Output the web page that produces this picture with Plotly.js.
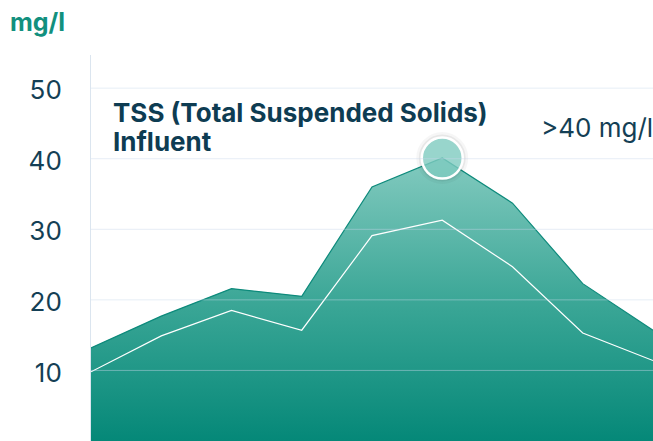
<!DOCTYPE html>
<html>
<head>
<meta charset="utf-8">
<script src="https://cdn.plot.ly/plotly-3.0.1.min.js"></script>
<style>
  html, body { margin: 0; padding: 0; background: #ffffff; }
  #chart { width: 653px; height: 441px; }
</style>
</head>
<body>
<div id="chart"></div>
<script>
// ---- data ----
const samples = [0, 1, 2, 3, 4, 5, 6, 7, 8];
const tssUpper = [13.2, 17.7, 21.6, 20.5, 36.0, 40.1, 33.7, 22.3, 15.7];
const tssLower = [9.8, 14.9, 18.5, 15.7, 29.1, 31.3, 24.7, 15.3, 11.4];
const yTicks = [10, 20, 30, 40, 50];
const yTickLabels = ['10', '20', '30', '40', '50'];
const unitLabel = 'mg/l';
const titleLines = ['TSS (Total Suspended Solids)', 'Influent'];
const thresholdLabel = '>40 mg/l';

// peak point (highlighted)
let peakIdx = 0;
tssUpper.forEach((v, i) => { if (v > tssUpper[peakIdx]) peakIdx = i; });
const peakX = [samples[peakIdx]];
const peakY = [tssUpper[peakIdx]];

const FONT = 'Inter, "Noto Sans", sans-serif';
const DARK = '#143f55';

const traces = [
  {
    x: samples, y: tssUpper, type: 'scatter', mode: 'lines',
    fill: 'tozeroy',
    fillgradient: {
      type: 'vertical', start: 0, stop: 40,
      colorscale: [[0, '#058878'], [0.5, '#3ca797'], [1, '#82cabf']]
    },
    line: { color: '#0d8a7b', width: 1.2 },
    hoverinfo: 'skip', showlegend: false
  },
  {
    x: samples, y: tssLower, type: 'scatter', mode: 'lines',
    line: { color: '#ffffff', width: 1.2 },
    hoverinfo: 'skip', showlegend: false
  },
  {
    x: peakX, y: peakY, type: 'scatter', mode: 'markers',
    marker: { size: 52, color: 'rgba(0,0,0,0.035)', line: { width: 0 } },
    hoverinfo: 'skip', showlegend: false, cliponaxis: false
  },
  {
    x: peakX, y: peakY, type: 'scatter', mode: 'markers',
    marker: { size: 47, color: 'rgba(0,0,0,0.06)', line: { width: 0 } },
    hoverinfo: 'skip', showlegend: false, cliponaxis: false
  },
  {
    x: peakX, y: peakY, type: 'scatter', mode: 'markers',
    marker: { size: 41, color: 'rgba(130,208,196,0.78)', line: { color: '#ffffff', width: 2.5 } },
    hoverinfo: 'skip', showlegend: false, cliponaxis: false
  }
];

const gridShapes = yTicks.map(v => ({
  type: 'line', xref: 'paper', x0: 0, x1: 1, yref: 'y', y0: v, y1: v,
  layer: 'above',
  line: { color: 'rgba(200,216,232,0.45)', width: 1 }
}));

const layout = {
  width: 653, height: 441,
  margin: { l: 91, r: 0, t: 55, b: 0, pad: 0 },
  paper_bgcolor: '#ffffff', plot_bgcolor: '#ffffff',
  font: { family: FONT, color: DARK },
  showlegend: false,
  xaxis: {
    range: [samples[0], samples[samples.length - 1]],
    visible: false, fixedrange: true
  },
  yaxis: {
    range: [0, 54.7],
    tickvals: yTicks, ticktext: yTickLabels,
    showgrid: false, zeroline: false,
    showline: true, linecolor: '#dbe5ef', linewidth: 1,
    ticks: '', ticklabelstandoff: 23, ticklabelshift: 2,
    tickfont: { family: FONT, size: 26, color: DARK },
    fixedrange: true
  },
  shapes: gridShapes,
  annotations: [
    {
      text: '<b>' + unitLabel + '</b>', xref: 'paper', yref: 'paper',
      x: -0.148, y: 1.085, xanchor: 'left', yanchor: 'middle', showarrow: false,
      font: { family: FONT, size: 25, color: '#12907e' }
    },
    {
      text: '<b>' + titleLines[0] + '</b>', xref: 'paper', yref: 'paper',
      x: 0.036, y: 0.852, xanchor: 'left', yanchor: 'middle', align: 'left',
      showarrow: false,
      font: { family: FONT, size: 26, color: '#0e3c52' }
    },
    {
      text: '<b>' + titleLines[1] + '</b>', xref: 'paper', yref: 'paper',
      x: 0.036, y: 0.777, xanchor: 'left', yanchor: 'middle', align: 'left',
      showarrow: false,
      font: { family: FONT, size: 26, color: '#0e3c52' }
    },
    {
      text: thresholdLabel, xref: 'paper', yref: 'paper',
      x: 0.797, y: 0.811, xanchor: 'left', yanchor: 'middle', showarrow: false,
      font: { family: FONT, size: 26, color: DARK }
    }
  ]
};

Plotly.newPlot('chart', traces, layout, { displayModeBar: false, staticPlot: true });
</script>
</body>
</html>
